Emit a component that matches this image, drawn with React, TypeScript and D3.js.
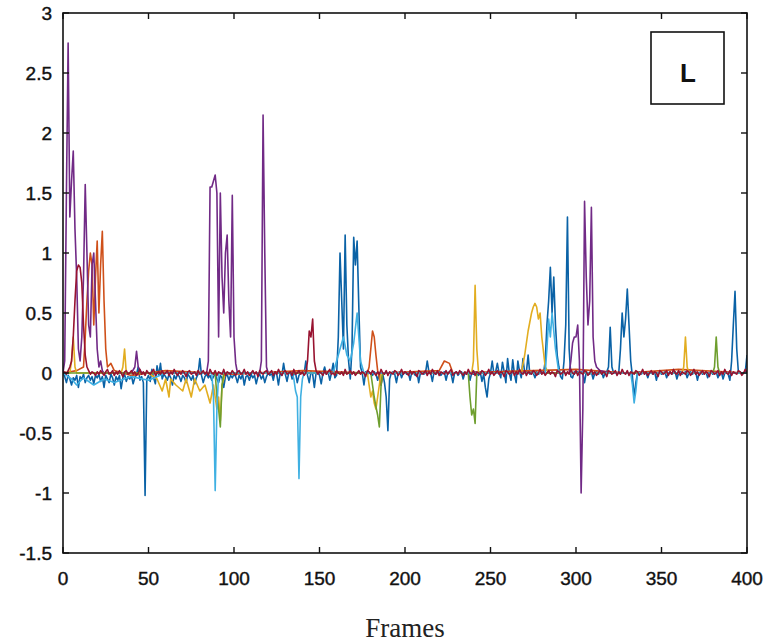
import React from 'react';
import * as d3 from 'd3';

// ---- data ----
const xTicks = [0, 50, 100, 150, 200, 250, 300, 350, 400];
const yTicks = [-1.5, -1, -0.5, 0, 0.5, 1, 1.5, 2, 2.5, 3];
const yTickLabels = ['-1.5', '-1', '-0.5', '0', '0.5', '1', '1.5', '2', '2.5', '3'];
const xLabel = 'Frames';
const legendText = 'L';

// dense series, one value per frame (0..400), in hundredths
const blueH = [
  0,-3,-8,-2,-5,-10,-4,-6,-2,-12,-3,-5,-1,-8,-4,-2,-6,-3,-9,-2,
  -4,-1,-7,-3,-12,-2,-5,-8,-1,-4,-10,-3,-6,-2,-13,-4,-1,-7,-3,-5,
  -2,-9,-4,-1,5,-6,-3,-8,-102,-5,-2,-7,3,-4,-9,6,-2,8,-5,-1,
  -3,-6,-1,-4,-10,-2,-5,-1,-3,-7,-2,-4,-8,-1,-3,-6,-2,-9,-4,-1,
  12,-2,-8,-3,-1,-4,-2,-6,-3,-1,-5,-8,-2,-4,-12,-3,-1,-6,-2,-4,
  -1,-3,-8,-2,-5,-1,-10,-3,-2,-6,-1,-4,-2,-9,-3,-1,-5,-2,-8,-3,
  0,-2,0,-6,1,-1,-10,0,-2,8,-1,-7,0,1,-5,-1,0,-8,-2,0,
  0,-1,10,-2,-8,1,-1,-12,0,1,-2,-9,0,5,-1,1,-6,0,8,-4,
  -2,30,100,60,20,115,40,10,-5,20,113,90,110,55,5,0,-10,1,-1,0,
  0,-2,1,-1,-6,0,-10,-1,-8,-20,-48,-5,0,1,-1,-8,0,1,-4,0,
  1,-1,0,-6,1,0,-2,1,-8,0,1,-1,0,10,1,0,-7,1,-1,0,
  1,-2,0,1,-6,0,1,-1,-8,0,1,-2,0,1,-5,0,-1,1,-6,0,
  -1,1,0,-2,1,-7,-1,-12,-20,-5,0,10,-1,1,8,0,-4,9,1,-8,
  12,0,-6,11,-1,-8,10,1,-4,12,0,1,15,-1,1,0,-4,1,-1,0,
  1,0,10,40,60,88,50,80,40,15,5,-3,-5,10,40,130,20,-3,-4,1,
  0,1,-1,1,0,-8,1,0,-1,1,-5,0,1,-1,0,1,-4,0,1,5,
  38,5,0,1,-1,0,20,50,30,45,70,40,10,-3,-20,-8,0,1,-1,0,
  1,0,-4,1,0,-1,1,-6,0,1,-1,0,1,-4,0,1,-1,0,1,-5,
  0,1,-1,0,1,-4,0,1,-1,0,1,-6,0,1,-1,0,1,-4,0,1,
  -1,0,1,-4,0,1,-5,0,1,-1,-6,10,40,68,20,0,1,-1,0,1,
  15,
];

const darkRedH = [
  0,1,-1,2,5,10,30,60,85,90,88,75,40,15,5,2,-1,1,0,-2,
  1,-1,2,0,-2,1,3,-1,0,2,-2,1,-1,2,0,-3,1,2,-1,0,
  2,-1,1,-2,0,3,-1,1,-2,2,0,-1,1,3,-2,0,1,-1,2,-1,
  0,2,-2,1,-1,3,0,-2,1,-1,2,0,-3,1,2,-1,0,1,-2,2,
  -1,0,2,-1,1,-2,3,0,-1,2,-2,1,0,-1,3,-2,1,0,-1,2,
  0,-2,1,2,-1,0,3,-1,1,-2,0,2,-1,1,-3,2,0,-1,1,2,
  -1,0,2,-2,1,-1,3,0,-2,1,2,-1,0,1,-2,3,-1,0,2,-1,
  1,-2,0,10,35,30,45,10,2,-1,1,0,-2,2,-1,1,3,-1,0,-2,
  2,0,-1,1,-2,3,-1,0,2,-1,1,-2,0,2,-1,1,0,-3,2,1,
  -1,2,0,-2,1,-1,3,0,-1,2,-2,1,0,-1,2,1,-2,0,3,-1,
  1,0,-2,2,-1,1,0,-3,2,1,-1,0,2,-2,1,-1,3,0,-1,2,
  -2,1,0,-1,2,-1,1,3,-2,0,1,-1,2,0,-2,1,-1,3,0,-1,
  2,-2,1,0,-1,2,1,-2,0,3,-1,1,-2,0,2,-1,1,0,-3,2,
  1,-1,0,2,-2,1,-1,3,0,-1,2,-2,1,0,-1,2,1,-2,0,3,
  -1,1,-2,0,2,-1,1,0,-3,2,1,-1,0,2,-2,1,-1,3,0,-1,
  2,-2,1,0,-1,2,1,-2,0,3,-1,1,-2,0,2,-1,1,0,-3,2,
  1,-1,0,2,-2,1,-1,3,0,-1,2,-2,1,0,-1,2,1,-2,0,3,
  -1,1,-2,0,2,-1,1,0,-3,2,1,-1,0,2,-2,1,-1,3,0,-1,
  2,-2,1,0,-1,2,1,-2,0,3,-1,1,-2,0,2,-1,1,0,-3,2,
  1,-1,0,2,-2,1,-1,3,0,-1,2,-2,1,0,-1,2,1,-2,0,3,
  0,
];

// sparse series: [frame, value]
const orangePts: [number, number][] = [
  [0,0],[8,0.02],[12,0.05],[13,0.3],[14,0.6],[15,0.85],[16,1.0],[17,0.9],[18,0.4],[19,0.8],
  [20,1.1],[21,0.5],[22,0.9],[23,1.18],[24,0.6],[25,0.2],[26,0.05],[28,0.08],[30,0.02],[40,-0.02],
  [60,0.02],[100,-0.01],[140,0.02],[178,0],[179,0.05],[180,0.2],[181,0.35],[182,0.3],[183,0.15],[184,0.02],
  [186,-0.1],[187,0],[220,0.02],[223,0.1],[226,0.08],[228,0],[300,0.03],[330,0],[360,0.03],[400,0],
];

const yellowPts: [number, number][] = [
  [0,0],[4,0],[5,0.1],[6,0.3],[7,0.05],[8,0],[34,0],[35,0.05],[36,0.2],[37,0],
  [50,0],[55,-0.05],[58,-0.15],[60,-0.05],[62,-0.2],[63,-0.05],[66,-0.1],[70,-0.15],[72,-0.05],[75,-0.2],
  [77,-0.05],[80,-0.15],[83,-0.1],[86,-0.25],[88,-0.1],[90,-0.3],[91,-0.2],[92,-0.4],[93,-0.1],[95,0],
  [178,0],[179,-0.1],[180,-0.2],[181,-0.15],[182,-0.25],[183,-0.3],[184,-0.2],[186,0],
  [239,0],[240,0.1],[241,0.73],[242,0.2],[243,0],[268,0],[270,0.15],[272,0.35],[274,0.5],[275,0.55],
  [276,0.58],[277,0.55],[278,0.45],[279,0.5],[280,0.3],[282,0.05],[284,0],[362,0],[363,0.05],[364,0.3],
  [365,0.05],[366,0],[400,0],
];

const purplePts: [number, number][] = [
  [0,0],[1,0.1],[2,1.5],[3,2.75],[4,1.3],[5,1.6],[6,1.85],[7,1.2],[8,0.8],[9,0.2],
  [10,0.1],[11,0.3],[12,0.8],[13,1.57],[14,1.0],[15,0.4],[16,0.3],[17,0.9],[18,1.0],[19,0.6],
  [20,0.2],[21,0.05],[22,0.1],[23,0.02],[24,0],[40,0],[42,0.05],[43,0.18],[44,0.05],[46,0],
  [84,0],[85,0.1],[86,1.55],[87,1.55],[88,1.6],[89,1.65],[90,1.5],[91,0.3],[92,1.5],[93,0.8],
  [94,0.5],[95,1.0],[96,1.15],[97,0.6],[98,0.3],[99,1.48],[100,0.3],[101,0.08],[102,0],
  [115,0],[116,0.1],[117,2.15],[118,1.0],[119,0.05],[120,0],
  [296,0],[297,0.1],[298,0.25],[299,0.3],[300,0.3],[301,0.4],[302,0.1],[303,-1.0],[304,-0.3],[305,1.43],
  [306,0.8],[307,0.4],[308,0.6],[309,1.38],[310,0.3],[311,0.1],[312,0.05],[314,0.02],[320,0],[400,0],
];

const greenPts: [number, number][] = [
  [0,0],[89,0],[90,-0.2],[91,-0.3],[92,-0.45],[93,-0.1],[94,0],
  [180,0],[181,-0.1],[182,-0.2],[183,-0.28],[184,-0.35],[185,-0.45],[186,-0.1],[187,0],
  [237,0],[238,-0.2],[239,-0.35],[240,-0.3],[241,-0.42],[242,0],
  [380,0],[381,0.05],[382,0.3],[383,0.05],[384,0],[400,0],
];

const lightBluePts: [number, number][] = [
  [0,0],[5,-0.05],[8,-0.1],[12,-0.04],[18,-0.1],[24,-0.05],[30,-0.08],[40,-0.03],[50,-0.06],[60,0],
  [87,0],[88,-0.2],[89,-0.98],[90,-0.3],[91,0],
  [134,0],[135,-0.05],[136,-0.15],[137,-0.2],[138,-0.88],[139,-0.2],[140,-0.05],[141,0],
  [158,0],[160,0.1],[162,0.2],[164,0.3],[166,0.15],[168,0.1],[170,0.25],[172,0.5],[174,0.1],[176,0],
  [282,0],[283,0.2],[284,0.45],[285,0.3],[286,0.5],[288,0.2],[290,0],
  [332,0],[333,-0.1],[334,-0.25],[335,-0.15],[336,0],[400,0],
];

const seriesColors = ['#0a62a6', '#cf501a', '#e2ad20', '#712a86', '#6e9e2e', '#3fb0e2', '#981330'];

export default function App() {
  const left = 63, right = 747, top = 13, bottom = 553;
  const x = d3.scaleLinear().domain([0, 400]).range([left, right]);
  const y = d3.scaleLinear().domain([-1.5, 3]).range([bottom, top]);
  const line = d3.line<[number, number]>().x(d => x(d[0])).y(d => y(d[1]));

  const dense = (arr: number[]): [number, number][] => arr.map((v, i) => [i, v / 100]);
  const series: [number, number][][] = [
    dense(blueH), orangePts, yellowPts, purplePts, greenPts, lightBluePts, dense(darkRedH),
  ];

  const tickLen = 6;
  const font = '"Liberation Sans", Arial, sans-serif';

  return (
    <svg width={764} height={644} style={{ position: 'absolute', left: 0, top: 0, background: '#fff' }}>
      <defs>
        <clipPath id="plotclip">
          <rect x={left} y={top} width={right - left} height={bottom - top} />
        </clipPath>
      </defs>
      <rect x={0} y={0} width={764} height={644} fill="#fff" />
      <g clipPath="url(#plotclip)">
        {series.map((s, i) => (
          <path key={i} d={line(s) || ''} fill="none" stroke={seriesColors[i]} strokeWidth={1.6} strokeLinejoin="round" />
        ))}
      </g>
      <rect x={left} y={top} width={right - left} height={bottom - top} fill="none" stroke="#111" strokeWidth={1.6} />
      {xTicks.map(t => (
        <g key={'x' + t}>
          <line x1={x(t)} x2={x(t)} y1={bottom} y2={bottom - tickLen} stroke="#111" strokeWidth={1.4} />
          <line x1={x(t)} x2={x(t)} y1={top} y2={top + tickLen} stroke="#111" strokeWidth={1.4} />
          <text x={x(t)} y={585} textAnchor="middle" fontFamily={font} fontSize={19} fill="#111" stroke="#111" strokeWidth={0.4}>{t}</text>
        </g>
      ))}
      {yTicks.map((t, i) => (
        <g key={'y' + t}>
          <line x1={left} x2={left + tickLen} y1={y(t)} y2={y(t)} stroke="#111" strokeWidth={1.4} />
          <line x1={right} x2={right - tickLen} y1={y(t)} y2={y(t)} stroke="#111" strokeWidth={1.4} />
          <text x={52} y={y(t) + 7} textAnchor="end" fontFamily={font} fontSize={19} fill="#111" stroke="#111" strokeWidth={0.4}>{yTickLabels[i]}</text>
        </g>
      ))}
      <text x={(left + right) / 2} y={637} textAnchor="middle" fontFamily='"Liberation Serif", "Times New Roman", serif' fontSize={27} fill="#222">{xLabel}</text>
      <rect x={651} y={32} width={73} height={72} fill="#fff" stroke="#111" strokeWidth={1.6} />
      <text x={688} y={82} textAnchor="middle" fontFamily={font} fontSize={26} fontWeight="bold" fill="#111">{legendText}</text>
    </svg>
  );
}
